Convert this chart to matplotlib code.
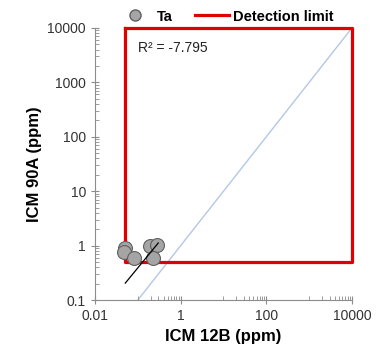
import numpy as np
import matplotlib
matplotlib.use("Agg")
import matplotlib.pyplot as plt
from matplotlib.ticker import FixedLocator, NullFormatter, FuncFormatter
from matplotlib.lines import Line2D

plt.rcParams['font.family'] = ['Liberation Sans', 'DejaVu Sans']

# Ta values (ppm)
icm_12b = [0.050, 0.048, 0.081, 0.19, 0.28, 0.23]
icm_90a = [0.90, 0.78, 0.60, 0.98, 1.02, 0.60]

# detection limits
dl_x = 0.05
dl_y = 0.5
axis_max = 10000

# linear trend line shown in the chart
trend_slope = 3.67
trend_intercept = 0.018
trend_x = [0.051, 0.30]
r2_text = "R² = -7.795"

fig = plt.figure(figsize=(3.83, 3.62), dpi=100)
ax = fig.add_axes([0.248, 0.171, 0.671, 0.752])
ax.set_xscale('log')
ax.set_yscale('log')
ax.set_xlim(0.01, 10000)
ax.set_ylim(0.1, 10000)

# 1:1 line
ax.plot([0.1, axis_max], [0.1, axis_max], color='#b4c7e7', lw=1, zorder=1)

# detection limit box
ax.plot([dl_x, dl_x, axis_max, axis_max, dl_x],
        [axis_max, dl_y, dl_y, axis_max, axis_max],
        color='#e00000', lw=2.3, zorder=2, clip_on=False)

ax.scatter(icm_12b, icm_90a, s=100, color='#a5a5a5', edgecolor='#606060',
           lw=0.8, zorder=3)

tx = np.array(trend_x)
ax.plot(tx, trend_slope * tx + trend_intercept, color='black', lw=0.9, zorder=4)

ax.text(0.1, 4300, r2_text, fontsize=10, va='center', color='#222222')

for s in ['top', 'right']:
    ax.spines[s].set_visible(False)
for s in ['left', 'bottom']:
    ax.spines[s].set_color('#8c8c8c')

ax.xaxis.set_major_locator(FixedLocator([0.01, 1, 100, 10000]))
ax.xaxis.set_minor_locator(FixedLocator(
    [m * 10.0 ** e for e in (-2, 0, 2) for m in range(10, 100, 10)]))
ax.yaxis.set_major_locator(FixedLocator([0.1, 1, 10, 100, 1000, 10000]))
ax.yaxis.set_minor_locator(FixedLocator(
    [m * 10.0 ** e for e in range(-1, 4) for m in range(2, 10)]))
fmt = FuncFormatter(lambda v, p: ('%g' % v))
ax.xaxis.set_major_formatter(fmt)
ax.yaxis.set_major_formatter(fmt)
ax.xaxis.set_minor_formatter(NullFormatter())
ax.yaxis.set_minor_formatter(NullFormatter())
ax.tick_params(which='major', direction='inout', length=6, color='#8c8c8c',
               labelsize=10, labelcolor='#333333')
ax.tick_params(which='minor', direction='in', length=3, color='#8c8c8c')

ax.set_xlabel('ICM 12B (ppm)', fontsize=12, fontweight='bold', labelpad=4)
ax.set_ylabel('ICM 90A (ppm)', fontsize=12, fontweight='bold', labelpad=4)

handles = [
    Line2D([], [], marker='o', ls='none', markersize=8, markerfacecolor='#a5a5a5',
           markeredgecolor='#606060', label='Ta'),
    Line2D([], [], color='#e00000', lw=2.3, label='Detection limit'),
]
leg = fig.legend(handles=handles, loc='upper center', bbox_to_anchor=(0.59, 1.01),
                 ncol=2, frameon=False, prop={'size': 10.5, 'weight': 'bold'},
                 handlelength=2.3, columnspacing=1.55, handletextpad=0.3)

fig.savefig('out.png', dpi=100)
